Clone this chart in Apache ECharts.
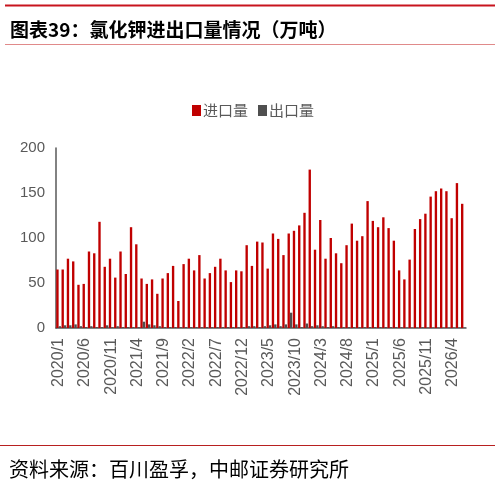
<!DOCTYPE html>
<html>
<head>
<meta charset="utf-8">
<script src="https://cdn.jsdelivr.net/npm/echarts@6/dist/echarts.min.js"></script>
<style>
  html, body { margin: 0; padding: 0; background: #fff; }
  #chart { width: 501px; height: 491px; }
</style>
</head>
<body>
<div id="chart"></div>
<script>
// 月份 2020/1 - 2026/6
var months = [
  '2020/1','2020/2','2020/3','2020/4','2020/5','2020/6','2020/7','2020/8','2020/9','2020/10','2020/11','2020/12',
  '2021/1','2021/2','2021/3','2021/4','2021/5','2021/6','2021/7','2021/8','2021/9','2021/10','2021/11','2021/12',
  '2022/1','2022/2','2022/3','2022/4','2022/5','2022/6','2022/7','2022/8','2022/9','2022/10','2022/11','2022/12',
  '2023/1','2023/2','2023/3','2023/4','2023/5','2023/6','2023/7','2023/8','2023/9','2023/10','2023/11','2023/12',
  '2024/1','2024/2','2024/3','2024/4','2024/5','2024/6','2024/7','2024/8','2024/9','2024/10','2024/11','2024/12',
  '2025/1','2025/2','2025/3','2025/4','2025/5','2025/6','2025/7','2025/8','2025/9','2025/10','2025/11','2025/12',
  '2026/1','2026/2','2026/3','2026/4','2026/5','2026/6'
]
// 进口量（万吨）
var importVol = [
  65, 65, 77, 74, 48, 49, 85, 83, 118, 68, 77, 56,
  85, 60, 112, 93, 55, 49, 54, 38, 55, 61, 69, 30,
  71, 77, 64, 81, 55, 61, 68, 77, 64, 51, 64, 63,
  92, 69, 96, 95, 66, 105, 99, 81, 105, 108, 114, 128,
  176, 87, 120, 77, 100, 83, 72, 92, 116, 97, 102, 141,
  119, 112, 123, 111, 97, 64, 54, 76, 110, 121, 127, 146,
  152, 155, 152, 122, 161, 138
]
// 出口量（万吨）
var exportVol = [
  2, 3, 3, 4, 2, 1, 2, 1, 1, 3, 1, 2,
  1, 1, 1, 1, 7, 4, 3, 2, 1, 1, 1, 1,
  1, 1, 1, 1, 1, 1, 1, 1, 1, 1, 1, 1,
  2, 2, 1, 2, 3, 4, 2, 4, 17, 4, 1, 5,
  2, 3, 2, 1, 2, 1, 1, 1, 1, 1, 1, 1,
  1, 1, 1, 1, 1, 1, 0.5, 0.5, 0.5, 1, 0.5, 0.5,
  0.5, 0.5, 0.5, 0.5, 0.5, 0.5
]
var yTicks = [0, 50, 100, 150, 200]

var chart = echarts.init(document.getElementById('chart'))
var grey = '#595959'
var option = {
  animation: false,
  title: [
    {
      text: '图表39：氯化钾进出口量情况（万吨）',
      left: 5, top: 15,
      textStyle: { fontFamily: 'Noto Sans CJK SC', fontSize: 19, fontWeight: 'bold', color: '#000' }
    },
    {
      text: '资料来源：百川盈孚，中邮证券研究所',
      left: 4, top: 454,
      textStyle: { fontFamily: 'Noto Sans CJK SC', fontSize: 20, fontWeight: 'normal', color: '#000' }
    }
  ],
  graphic: [
    { type: 'line', shape: { x1: 5, y1: 5.5, x2: 495, y2: 5.5 }, style: { stroke: '#c8141e', lineWidth: 2 } },
    { type: 'line', shape: { x1: 5, y1: 44.5, x2: 495, y2: 44.5 }, style: { stroke: '#e08a8a', lineWidth: 1 } },
    { type: 'line', shape: { x1: 0, y1: 445.5, x2: 495, y2: 445.5 }, style: { stroke: '#b82020', lineWidth: 1 } }
  ],
  legend: {
    left: 187, top: 98,
    icon: 'rect', itemWidth: 9, itemHeight: 11, itemGap: 10,
    textStyle: { fontFamily: 'Noto Sans CJK SC', fontSize: 15, color: grey, padding: [0, 0, 0, -3] },
    data: ['进口量', '出口量']
  },
  grid: { left: 56, right: 35, top: 148, bottom: 163 },
  xAxis: {
    type: 'category',
    data: months,
    axisLine: { lineStyle: { color: grey, width: 1.5 } },
    axisTick: { interval: 4, length: 4, lineStyle: { color: grey, width: 1.5 } },
    axisLabel: {
      interval: 4, rotate: 90, margin: 10,
      fontFamily: 'Liberation Sans', fontSize: 16, color: grey
    }
  },
  yAxis: {
    type: 'value',
    min: yTicks[0], max: yTicks[yTicks.length - 1], interval: 50,
    splitLine: { show: false },
    axisLine: { show: true, lineStyle: { color: grey, width: 1.5 } },
    axisTick: { show: false },
    axisLabel: { margin: 11, fontFamily: 'Liberation Sans', fontSize: 15, color: grey }
  },
  series: [
    {
      name: '进口量', type: 'bar', data: importVol,
      itemStyle: { color: '#c00000' },
      barGap: '0%', barCategoryGap: '10%'
    },
    {
      name: '出口量', type: 'bar', data: exportVol,
      itemStyle: { color: '#4f4f4f' },
      barGap: '0%', barCategoryGap: '10%'
    }
  ]
}
chart.setOption(option)
</script>
</body>
</html>
